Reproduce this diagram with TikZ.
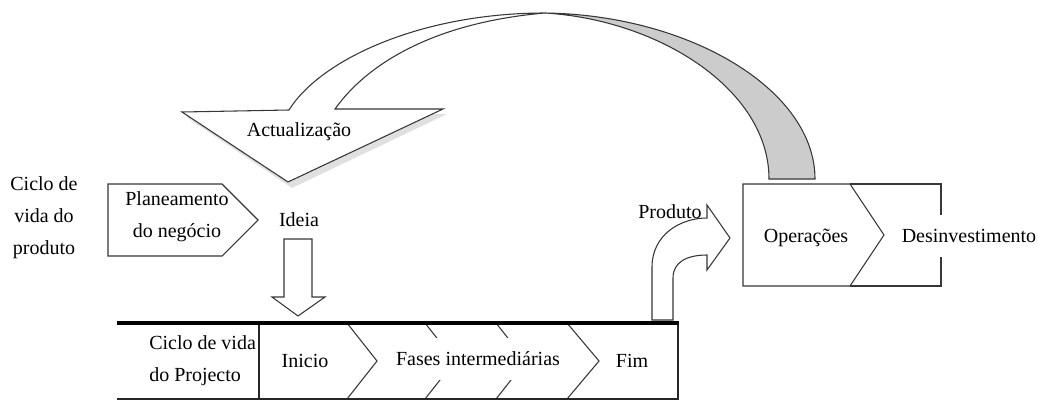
\documentclass[tikz,border=0pt]{standalone}
\usepackage{fontspec}
\setmainfont{Liberation Serif}
\definecolor{ln}{RGB}{55,55,55}
\definecolor{ribbon}{RGB}{204,204,204}
\begin{document}
\begin{tikzpicture}[x=0.75pt,y=-0.75pt,
  shp/.style={draw=ln, line width=0.8pt, fill=white, line join=miter},
  lbl/.style={font=\fontsize{15}{18.5}\selectfont, inner sep=0pt, text=black},
  cover/.style={lbl, fill=white, inner xsep=2pt, minimum height=31.5pt},
  barthick/.style={draw=black, line width=3pt},
  barthin/.style={draw=black!85, line width=1.3pt},
]
\useasboundingbox (0,0) rectangle (1038,400);

% ---- curved "Actualizacao" arrow ----
\draw[shp, fill=ribbon] (545,13) .. controls (690,15) and (815,90) .. (815,179)
  -- (769,179) .. controls (769,90) and (660,20) .. (545,13) -- cycle;
\fill[black, opacity=0.12] (186,117) -- (447,114) -- (292,188) -- cycle;
\draw[shp] (182,112) -- (289,110) .. controls (320,60) and (420,13) .. (545,13)
  .. controls (440,22) and (370,60) .. (335,109) -- (443,109) -- (288,182) -- cycle;
\node[lbl] (act) at (299,132) {Actualização};

% ---- product life cycle ----
\node[lbl, align=center, font=\fontsize{15}{24}\selectfont] (cvp) at (44,218) {Ciclo de\\vida do\\produto};
\draw[shp] (108,184) -- (222,184) -- (258,220) -- (222,256) -- (108,256) -- cycle;
\node[lbl, align=center, font=\fontsize{15}{24}\selectfont] (plan) at (177,217) {Planeamento\\do negócio};
\node[lbl] (ideia) at (299,220) {Ideia};
\draw[shp] (284,239) -- (312,239) -- (312,297) -- (325,297) -- (298,316) -- (272,297) -- (284,297) -- cycle;

% ---- Produto bent arrow ----
\draw[shp] (652,320) -- (652,267) .. controls (652,235) and (680,218) .. (707,218)
  -- (707,205) -- (730,238) -- (707,270) -- (707,255)
  .. controls (687,255) and (673,262) .. (673,278) -- (673,320) -- cycle;
\node[lbl] (prod) at (670,212) {Produto};

% ---- operations / divestment ----
\draw[shp] (850,184) -- (941,184) -- (941,286) -- (850,286);
\draw[shp] (743,184) -- (850,184) -- (884,235) -- (850,286) -- (743,286) -- cycle;
\node[lbl] (oper) at (806,238) {Operações};
\node[cover] (desinv) at (969,236) {Desinvestimento};

% ---- project life cycle bar ----
\draw[draw=ln, line width=0.8pt] (347,323) -- (377,361) -- (347,399);
\draw[draw=ln, line width=0.8pt] (425,323) -- (455,361) -- (425,399);
\draw[draw=ln, line width=0.8pt] (496,323) -- (526,361) -- (496,399);
\draw[draw=ln, line width=0.8pt] (567,323) -- (599,361) -- (567,399);
\node[cover] (fases) at (478,359) {Fases intermediárias};
\draw[barthin] (117,399) -- (678,399);
\draw[barthin] (259,323) -- (259,400);
\draw[barthin] (678,323) -- (678,400);
\draw[barthick] (117,323) -- (679,323);
\node[lbl, align=left, anchor=west, font=\fontsize{15}{24}\selectfont] (cvproj) at (149,361) {Ciclo de vida\\do Projecto};
\node[lbl] (inicio) at (305,361) {Inicio};
\node[lbl] (fim) at (632,361) {Fim};
\end{tikzpicture}
\end{document}
